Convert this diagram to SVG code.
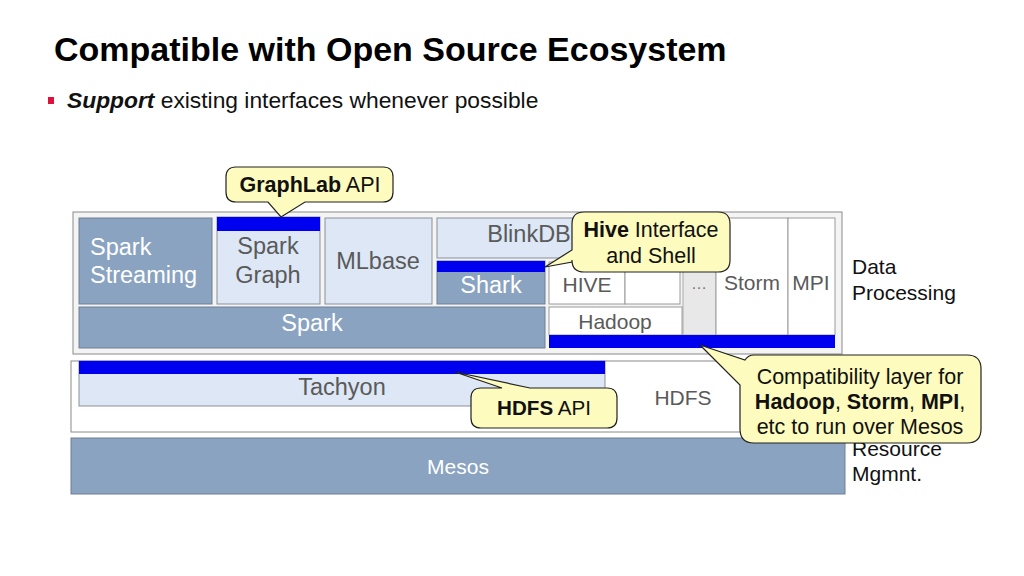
<svg xmlns="http://www.w3.org/2000/svg" width="1024" height="576" viewBox="0 0 1024 576">
<style>
text{font-family:"Liberation Sans",Arial,sans-serif}
.steel{fill:#8aa3c1;stroke:#6f7f93;stroke-width:1}
.light{fill:#dde7f5;stroke:#8a8f98;stroke-width:1}
.white{fill:#ffffff;stroke:#9a9a9a;stroke-width:1}
.bar{fill:#0000f0}
.call{fill:#fdfbbd;stroke:#222;stroke-width:1.2}
.wt{fill:#ffffff;font-size:23.5px}
.gt{fill:#5a5a5a;font-size:23.5px}
.sm{font-size:21px}
.ct{fill:#111;font-size:21.5px}
.lbl{fill:#111;font-size:21px}
</style>
<rect width="1024" height="576" fill="#fff"/>
<g id="title">
<text x="54" y="61" font-size="34" font-weight="bold" fill="#000">Compatible with Open Source Ecosystem</text>
<rect x="48" y="97" width="6" height="7" fill="#e0103c"/>
<text x="67" y="108" font-size="22.8" fill="#111"><tspan font-weight="bold" font-style="italic">Support</tspan> existing interfaces whenever possible</text>
</g>
<g id="data-processing">
<rect x="73" y="212" width="769" height="142" fill="#f4f4f4" stroke="#8a8a8a" stroke-width="1"/>
</g>
<g id="spark-streaming">
<rect class="steel" x="79" y="218" width="133" height="86"/>
<text class="wt" x="90" y="255">Spark</text>
<text class="wt" x="90" y="283">Streaming</text>
</g>
<g id="spark-graph">
<rect class="light" x="217" y="217" width="103" height="87"/>
<rect class="bar" x="217" y="217" width="103" height="14"/>
<text class="gt" x="268" y="254" text-anchor="middle">Spark</text>
<text class="gt" x="268" y="283" text-anchor="middle">Graph</text>
</g>
<g id="mlbase">
<rect class="light" x="325" y="218" width="107" height="86"/>
<text class="gt" x="378" y="269" text-anchor="middle">MLbase</text>
</g>
<g id="blinkdb">
<rect class="light" x="437" y="218" width="243" height="40"/>
<text class="gt" x="529" y="242" text-anchor="middle">BlinkDB</text>
</g>
<g id="shark">
<rect class="steel" x="437" y="261" width="108" height="43"/>
<rect class="bar" x="437" y="261" width="108" height="11"/>
<text class="wt" x="491" y="293" text-anchor="middle">Shark</text>
</g>
<g id="hive">
<rect class="white" x="549" y="262" width="76" height="42"/>
<rect class="white" x="625" y="262" width="55" height="42"/>
<text class="gt sm" x="587" y="292" text-anchor="middle">HIVE</text>
</g>
<g id="more">
<rect x="683" y="218" width="33" height="117" fill="#e8e8e8" stroke="#aaa" stroke-width="1"/>
<text x="699" y="289" text-anchor="middle" fill="#777" font-size="16">…</text>
</g>
<g id="storm">
<rect class="white" x="716" y="218" width="72" height="117"/>
<text class="gt sm" x="752" y="290" text-anchor="middle">Storm</text>
</g>
<g id="mpi">
<rect class="white" x="788" y="218" width="47" height="117"/>
<text class="gt sm" x="811" y="290" text-anchor="middle">MPI</text>
</g>
<g id="hadoop">
<rect class="white" x="549" y="307" width="133" height="28"/>
<text class="gt sm" x="615" y="329" text-anchor="middle">Hadoop</text>
</g>
<g id="compat-bar">
<rect class="bar" x="549" y="335" width="286" height="13"/>
</g>
<g id="spark">
<rect class="steel" x="79" y="307" width="466" height="41"/>
<text class="wt" x="312" y="331" text-anchor="middle">Spark</text>
</g>
<g id="storage">
<rect x="71" y="361" width="774" height="71" fill="#fff" stroke="#8a8a8a" stroke-width="1"/>
<text class="gt sm" x="683" y="405" text-anchor="middle">HDFS</text>
</g>
<g id="tachyon">
<rect class="light" x="79" y="361" width="526" height="45"/>
<rect class="bar" x="79" y="361" width="526" height="13"/>
<text class="gt" x="342" y="395" text-anchor="middle">Tachyon</text>
</g>
<g id="mesos">
<rect class="steel" x="71" y="438" width="774" height="56"/>
<text class="wt sm" x="458" y="474" text-anchor="middle">Mesos</text>
</g>
<g id="labels">
<text class="lbl" x="852" y="274">Data</text>
<text class="lbl" x="852" y="300">Processing</text>
<text class="lbl" x="852" y="456">Resource</text>
<text class="lbl" x="852" y="481">Mgmnt.</text>
</g>
<g id="connectors">
<path class="call" d="M236,167 H383 Q393,167 393,177 V192 Q393,202 383,202 H305 L281,217 L268,202 H236 Q226,202 226,192 V177 Q226,167 236,167 Z"/>
<path class="call" d="M584,212 H718 Q730,212 730,224 V260 Q730,272 718,272 H584 Q572,272 572,260 V262 L545,267 L572,250 V224 Q572,212 584,212 Z"/>
<path class="call" d="M481,388 H502 L455,372 L530,388 H607 Q617,388 617,398 V418 Q617,428 607,428 H481 Q471,428 471,418 V398 Q471,388 481,388 Z"/>
<path class="call" d="M754,355 H967 Q981,355 981,369 V429 Q981,443 967,443 H754 Q740,443 740,429 V385 L700,345 L745,360 Q748,355 754,355 Z"/>
</g>
<g id="callout-text">
<text class="ct" x="310" y="192" text-anchor="middle"><tspan font-weight="bold">GraphLab</tspan> API</text>
<text class="ct" x="651" y="237" text-anchor="middle"><tspan font-weight="bold">Hive</tspan> Interface</text>
<text class="ct" x="651" y="263" text-anchor="middle">and Shell</text>
<text class="ct" x="544" y="415" text-anchor="middle" style="font-size:20.6px"><tspan font-weight="bold">HDFS</tspan> API</text>
<text class="ct" x="860" y="384" text-anchor="middle">Compatibility layer for</text>
<text class="ct" x="860" y="409" text-anchor="middle"><tspan font-weight="bold">Hadoop</tspan>, <tspan font-weight="bold">Storm</tspan>, <tspan font-weight="bold">MPI</tspan>,</text>
<text class="ct" x="860" y="434" text-anchor="middle">etc to run over Mesos</text>
</g>
</svg>
